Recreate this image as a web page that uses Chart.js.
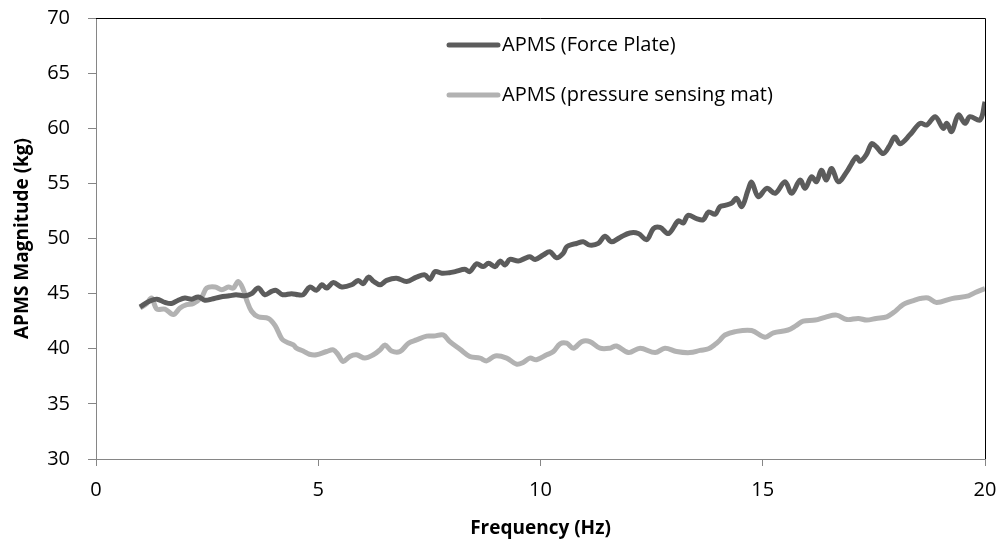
<!DOCTYPE html>
<html>
<head>
<meta charset="utf-8">
<script src="https://cdn.jsdelivr.net/npm/chart.js@4/dist/chart.umd.min.js"></script>
<style>
    html, body { margin: 0; padding: 0; background: #ffffff; }
    #wrap { width: 1001px; height: 548px; position: relative; }
</style>
</head>
<body>
<div id="wrap"><canvas id="ApmsChart"></canvas></div>
<script>
"use strict";

// force plate readings (Hz / kg)
const plateFreq = [0.99, 1.2, 1.37, 1.55, 1.7, 1.85, 2.0, 2.15, 2.3, 2.45, 2.6, 2.8, 3.0, 3.15, 3.35, 3.5, 3.65, 3.8, 3.95, 4.05,
    4.2, 4.4, 4.55, 4.66, 4.81, 4.96, 5.08, 5.19, 5.34, 5.53, 5.75, 5.9, 6.01, 6.13, 6.25, 6.39, 6.54, 6.76, 6.99, 7.21,
    7.4, 7.51, 7.63, 7.78, 7.95, 8.08, 8.3, 8.41, 8.56, 8.71, 8.83, 8.98, 9.09, 9.2, 9.31, 9.5, 9.65, 9.76, 9.88, 10.06,
    10.21, 10.36, 10.51, 10.59, 10.74, 10.81, 10.96, 11.11, 11.3, 11.45, 11.6, 11.79, 12.01, 12.2, 12.39, 12.54, 12.69, 12.88, 13.1, 13.21,
    13.32, 13.51, 13.66, 13.78, 13.93, 14.04, 14.15, 14.3, 14.41, 14.53, 14.67, 14.75, 14.9, 15.09, 15.28, 15.5, 15.65, 15.84, 15.95, 16.1,
    16.21, 16.32, 16.43, 16.55, 16.7, 16.89, 17.0, 17.11, 17.19, 17.33, 17.45, 17.56, 17.71, 17.85, 17.97, 18.09, 18.31, 18.54, 18.69, 18.88,
    19.06, 19.14, 19.25, 19.4, 19.55, 19.66, 19.89, 20.0];
const plateKg = [43.8, 44.3, 44.5, 44.2, 44.1, 44.4, 44.6, 44.5, 44.7, 44.4, 44.5, 44.7, 44.8, 44.9, 44.8, 45.0, 45.5, 44.9, 45.2, 45.3,
    44.9, 45.0, 44.9, 44.9, 45.6, 45.3, 45.8, 45.5, 46.0, 45.6, 45.8, 46.2, 45.9, 46.5, 46.1, 45.8, 46.2, 46.4, 46.1, 46.5,
    46.7, 46.3, 47.0, 46.85, 46.9, 47.0, 47.2, 47.0, 47.7, 47.45, 47.75, 47.45, 47.95, 47.6, 48.1, 47.95, 48.2, 48.35, 48.1, 48.5,
    48.8, 48.25, 48.65, 49.25, 49.5, 49.55, 49.7, 49.4, 49.55, 50.2, 49.7, 50.1, 50.5, 50.45, 49.9, 50.9, 51.0, 50.45, 51.6, 51.4,
    52.1, 51.8, 51.7, 52.4, 52.2, 52.9, 53.0, 53.2, 53.65, 52.9, 54.4, 55.1, 53.8, 54.55, 54.1, 55.15, 54.1, 55.3, 54.55, 55.6,
    55.15, 56.2, 55.3, 56.35, 55.15, 56.05, 56.8, 57.4, 57.0, 57.6, 58.6, 58.3, 57.7, 58.4, 59.2, 58.6, 59.4, 60.45, 60.3, 61.05,
    60.0, 60.45, 59.7, 61.2, 60.45, 61.05, 60.75, 62.4];

// pressure sensing mat readings (Hz / kg)
const matFreq = [0.99, 1.14, 1.25, 1.37, 1.55, 1.74, 1.89, 2.04, 2.19, 2.38, 2.49, 2.68, 2.83, 2.98, 3.09, 3.2, 3.31, 3.39, 3.5, 3.65,
    3.88, 4.03, 4.18, 4.29, 4.44, 4.51, 4.66, 4.8, 4.96, 5.19, 5.34, 5.45, 5.56, 5.71, 5.86, 6.05, 6.24, 6.39, 6.5, 6.65,
    6.84, 7.03, 7.21, 7.44, 7.6, 7.81, 7.96, 8.19, 8.41, 8.64, 8.79, 8.98, 9.24, 9.46, 9.61, 9.76, 9.91, 10.14, 10.29, 10.44,
    10.59, 10.74, 10.93, 11.11, 11.34, 11.56, 11.71, 11.98, 12.24, 12.58, 12.8, 13.06, 13.36, 13.59, 13.78, 13.93, 14.04, 14.15, 14.37, 14.75,
    15.05, 15.24, 15.57, 15.75, 15.91, 16.18, 16.4, 16.66, 16.89, 17.15, 17.34, 17.55, 17.79, 17.95, 18.09, 18.2, 18.42, 18.54, 18.72, 18.91,
    19.25, 19.63, 19.78, 20.0];
const matKg = [43.7, 44.1, 44.6, 43.6, 43.6, 43.1, 43.7, 44.0, 44.1, 44.7, 45.5, 45.6, 45.35, 45.6, 45.5, 46.1, 45.4, 44.4, 43.4, 42.9,
    42.75, 42.1, 40.9, 40.6, 40.35, 40.05, 39.8, 39.5, 39.45, 39.75, 39.9, 39.45, 38.85, 39.3, 39.45, 39.15, 39.45, 39.9, 40.35, 39.8,
    39.75, 40.5, 40.8, 41.15, 41.15, 41.25, 40.65, 39.95, 39.3, 39.15, 38.9, 39.35, 39.15, 38.6, 38.75, 39.15, 39.0, 39.45, 39.75, 40.45,
    40.5, 40.05, 40.65, 40.65, 40.05, 40.05, 40.25, 39.65, 40.05, 39.65, 40.05, 39.75, 39.65, 39.85, 40.0, 40.4, 40.8, 41.25, 41.55, 41.65,
    41.05, 41.45, 41.7, 42.1, 42.5, 42.6, 42.85, 43.05, 42.65, 42.75, 42.6, 42.75, 42.9, 43.3, 43.8, 44.1, 44.4, 44.55, 44.6, 44.2,
    44.55, 44.8, 45.1, 45.45];

const seriesNames = ["APMS (Force Plate)", "APMS (pressure sensing mat)"];
const xTitle = "Frequency (Hz)";
const yTitle = "APMS Magnitude (kg)";

const FONT = "'Open Sans', 'Noto Sans', sans-serif";

function pairUp(xs, ys) {
    let pts = [];
    for (let i = 0; i < xs.length; i++) {
        pts.push({ x: xs[i], y: ys[i] });
    }
    return pts;
}

// black frame on top/right + legend inside the plot
const frameAndKey = {
    id: "frameAndKey",
    beforeDatasetsDraw(chart) {
        const a = chart.chartArea;
        const ctx = chart.ctx;
        ctx.save();
        ctx.strokeStyle = "#000000";
        ctx.lineWidth = 1;
        ctx.beginPath();
        ctx.moveTo(a.left, a.top + 0.5);
        ctx.lineTo(a.right + 0.5, a.top + 0.5);
        ctx.lineTo(a.right + 0.5, a.bottom);
        ctx.stroke();
        ctx.restore();
    },
    afterDraw(chart) {
        const ctx = chart.ctx;
        const rows = [45, 95];
        ctx.save();
        ctx.font = "20px " + FONT;
        ctx.textBaseline = "middle";
        ctx.fillStyle = "#000000";
        chart.data.datasets.forEach(function (ds, i) {
            ctx.strokeStyle = ds.borderColor;
            ctx.lineWidth = 5;
            ctx.lineCap = "round";
            ctx.beginPath();
            ctx.moveTo(449, rows[i]);
            ctx.lineTo(498, rows[i]);
            ctx.stroke();
            ctx.fillText(ds.label, 502, rows[i]);
        });
        ctx.restore();
    }
};

let apms_chart = new Chart(document.getElementById("ApmsChart"), {
    type: "line",
    data: {
        datasets: [{
            label: seriesNames[0],
            data: pairUp(plateFreq, plateKg),
            borderColor: "#5c5c5c",
            borderWidth: 5,
            pointRadius: 0,
            tension: 0.35,
            fill: false
        }, {
            label: seriesNames[1],
            data: pairUp(matFreq, matKg),
            borderColor: "#b2b2b2",
            borderWidth: 5,
            pointRadius: 0,
            tension: 0.35,
            fill: false
        }]
    },
    options: {
        responsive: true,
        maintainAspectRatio: false,
        animation: false,
        layout: {
            padding: { top: 18, right: 16, left: 0, bottom: 0 }
        },
        plugins: {
            legend: { display: false },
            tooltip: { enabled: false }
        },
        scales: {
            x: {
                type: "linear",
                min: 0,
                max: 20,
                afterFit: function (scale) {
                    scale.height = 89;
                    scale.paddingLeft = 0;
                    scale.paddingRight = 0;
                },
                ticks: { stepSize: 5, color: "#000000", padding: 12, font: { family: FONT, size: 20 } },
                grid: { drawOnChartArea: false, drawTicks: true, tickLength: 7, color: "#868686" },
                border: { color: "#868686", width: 1 },
                title: {
                    display: true,
                    text: xTitle,
                    color: "#000000",
                    padding: { top: 0, bottom: 8 },
                    font: { family: FONT, size: 19, weight: "bold" }
                }
            },
            y: {
                min: 30,
                max: 70,
                afterFit: function (scale) {
                    scale.width = 96;
                    scale.paddingTop = 0;
                    scale.paddingBottom = 0;
                },
                ticks: { stepSize: 5, color: "#000000", padding: 18, font: { family: FONT, size: 20 } },
                grid: { drawOnChartArea: false, drawTicks: true, tickLength: 8, color: "#868686" },
                border: { color: "#868686", width: 1 },
                title: {
                    display: true,
                    text: yTitle,
                    color: "#000000",
                    padding: { top: 11, bottom: 0 },
                    font: { family: FONT, size: 19, weight: "bold" }
                }
            }
        }
    },
    plugins: [frameAndKey]
});
</script>
</body>
</html>
